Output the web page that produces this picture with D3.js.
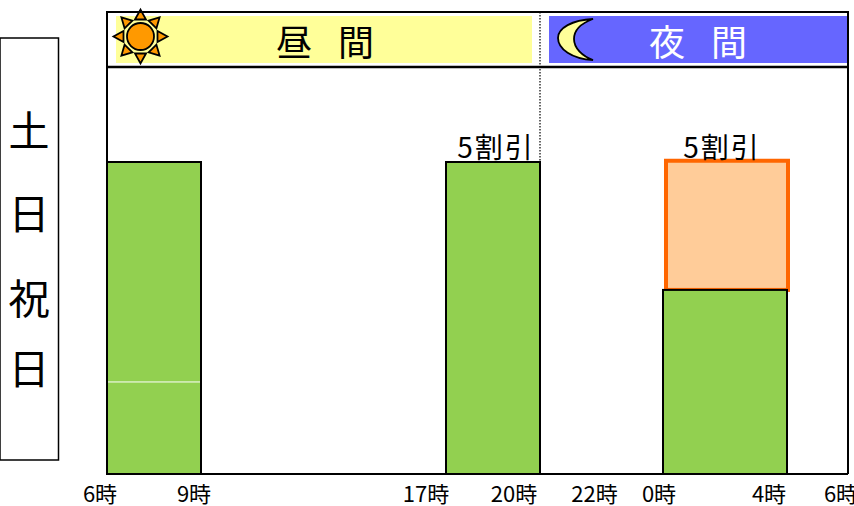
<!DOCTYPE html>
<html>
<head>
<meta charset="utf-8">
<script src="https://cdn.jsdelivr.net/npm/d3@7/dist/d3.min.js"></script>
<style>
  html, body { margin: 0; padding: 0; background: #fff; overflow: hidden; }
  svg { display: block; }
  text { font-family: "Noto Sans CJK JP", sans-serif; }
</style>
</head>
<body>
<div id="viz"></div>
<script>
let w = 854;
let h = 506;

// hours counted from 6 in the morning, 24 = 0時 and 30 = 6時
let hourStops = [6, 9, 17, 20, 24, 28, 30];
let tickHours = [6, 9, 17, 20, 22, 24, 28, 30];
let tickLabels = ["6時", "9時", "17時", "20時", "22時", "0時", "4時", "6時"];

// rate in percent of the normal toll
let barStart = [6, 17, 24];
let barEnd = [9, 20, 28];
let barValue = [100, 100, 59];

let extraStart = [24];
let extraEnd = [28];
let extraValue = [100.4];

let discountHours = [18.5, 26];
let discountLabels = ["5割引", "5割引"];

let dayLabel = "昼 間";
let nightLabel = "夜 間";
let sideLabels = ["土", "日", "祝", "日"];

let plotLeft = 107, plotRight = 848, plotTop = 12, headerBottom = 67, plotBottom = 474;

let x = d3.scaleLinear().domain(hourStops).range([107, 201, 446, 540, 663, 787, 848]);
let y = d3.scaleLinear().domain([0, 100]).range([plotBottom, 162]);

let viz = d3.select("#viz").append("svg")
  .attr("width", w)
  .attr("height", h)
  .attr("viewBox", "0 0 " + w + " " + h);

// side box
viz.append("rect")
  .attr("x", 0).attr("y", 38).attr("width", 58.5).attr("height", 422)
  .attr("fill", "#fff").attr("stroke", "#000").attr("stroke-width", 1.5);

let sideY = [146, 229, 314, 384];
viz.selectAll(".side").data(sideLabels).enter().append("text")
  .attr("class", "side")
  .attr("x", 29)
  .attr("y", (d, i) => sideY[i])
  .attr("text-anchor", "middle")
  .attr("font-size", 41)
  .attr("fill", "#000")
  .text(d => d);

// header bands
viz.append("rect").attr("x", 116).attr("y", 16).attr("width", 416).attr("height", 47).attr("fill", "#ffff99");
viz.append("rect").attr("x", 549).attr("y", 16).attr("width", 299).attr("height", 47).attr("fill", "#6666ff");

viz.append("text").attr("x", 325).attr("y", 56).attr("text-anchor", "middle")
  .attr("font-size", 36).attr("fill", "#000").style("word-spacing", "18px").text(dayLabel);
viz.append("text").attr("x", 698).attr("y", 56).attr("text-anchor", "middle")
  .attr("font-size", 36).attr("fill", "#fff").style("word-spacing", "18px").text(nightLabel);

// sun
let sun = viz.append("g").attr("transform", "translate(140.5,36.5)");
d3.range(8).forEach(i => {
  sun.append("path")
    .attr("d", "M-5.5,-17 L0,-27 L5.5,-17 Z")
    .attr("transform", "rotate(" + (i * 45) + ")")
    .attr("fill", "#ff9900")
    .attr("stroke", "#000")
    .attr("stroke-width", 1.8)
    .attr("stroke-linejoin", "miter");
});
sun.append("circle").attr("r", 13.5).attr("fill", "#ff9900").attr("stroke", "#000").attr("stroke-width", 1.8);

// moon
viz.append("path")
  .attr("d", "M593,19 C572,20 558,28 558,38 C558,49 572,59 593,60 C582,56 574,48 574,39 C574,30 582,23 593,19 Z")
  .attr("fill", "#ffff99").attr("stroke", "#000").attr("stroke-width", 1.8);

// frame
viz.append("path")
  .attr("d", "M" + plotLeft + "," + plotBottom + " V" + plotTop + " H" + plotRight + " V" + plotBottom)
  .attr("fill", "none").attr("stroke", "#000").attr("stroke-width", 2);
viz.append("line")
  .attr("x1", plotLeft).attr("x2", plotRight + 1).attr("y1", headerBottom).attr("y2", headerBottom)
  .attr("stroke", "#000").attr("stroke-width", 2.5);
viz.append("line")
  .attr("x1", plotLeft).attr("x2", plotRight).attr("y1", plotBottom).attr("y2", plotBottom)
  .attr("stroke", "#000").attr("stroke-width", 2);

// dotted divider at 20時
viz.append("line")
  .attr("x1", x(20)).attr("x2", x(20)).attr("y1", plotTop).attr("y2", y(100))
  .attr("stroke", "#000").attr("stroke-width", 1.2).attr("stroke-dasharray", "1.5 1.5");

// night discount extra
viz.selectAll(".extra").data(extraValue).enter().append("rect")
  .attr("class", "extra")
  .attr("x", (d, i) => x(extraStart[i]) + 3)
  .attr("width", (d, i) => x(extraEnd[i]) - x(extraStart[i]) - 2)
  .attr("y", d => y(d))
  .attr("height", (d, i) => y(barValue[2]) - y(d))
  .attr("fill", "#ffcc99")
  .attr("stroke", "#ff6600")
  .attr("stroke-width", 4);

// green bars
viz.selectAll(".bar").data(barValue).enter().append("rect")
  .attr("class", "bar")
  .attr("x", (d, i) => x(barStart[i]))
  .attr("width", (d, i) => x(barEnd[i]) - x(barStart[i]))
  .attr("y", d => y(d))
  .attr("height", d => y(0) - y(d))
  .attr("fill", "#92d050")
  .attr("stroke", "#000")
  .attr("stroke-width", 2);

// thin white seam in the first bar
viz.append("line")
  .attr("x1", x(6) + 1).attr("x2", x(9) - 1).attr("y1", y(29.5)).attr("y2", y(29.5))
  .attr("stroke", "#fff").attr("stroke-width", 1);

// 5割引 labels
let discountDx = [3, -3];
viz.selectAll(".discount").data(discountLabels).enter().append("text")
  .attr("class", "discount")
  .attr("x", (d, i) => x(discountHours[i]) + discountDx[i])
  .attr("y", 158)
  .attr("text-anchor", "middle")
  .attr("font-size", 28)
  .attr("letter-spacing", 2)
  .attr("fill", "#000")
  .text(d => d);

// hour labels sit off their ticks in the original
let tickDx = [-7, -7, -20, -26, -7, -4, -18, -7];
viz.selectAll(".tick-label").data(tickLabels).enter().append("text")
  .attr("class", "tick-label")
  .attr("x", (d, i) => x(tickHours[i]) + tickDx[i])
  .attr("y", 502)
  .attr("text-anchor", "middle")
  .attr("font-size", 22)
  .attr("fill", "#000")
  .text(d => d);
</script>
</body>
</html>
